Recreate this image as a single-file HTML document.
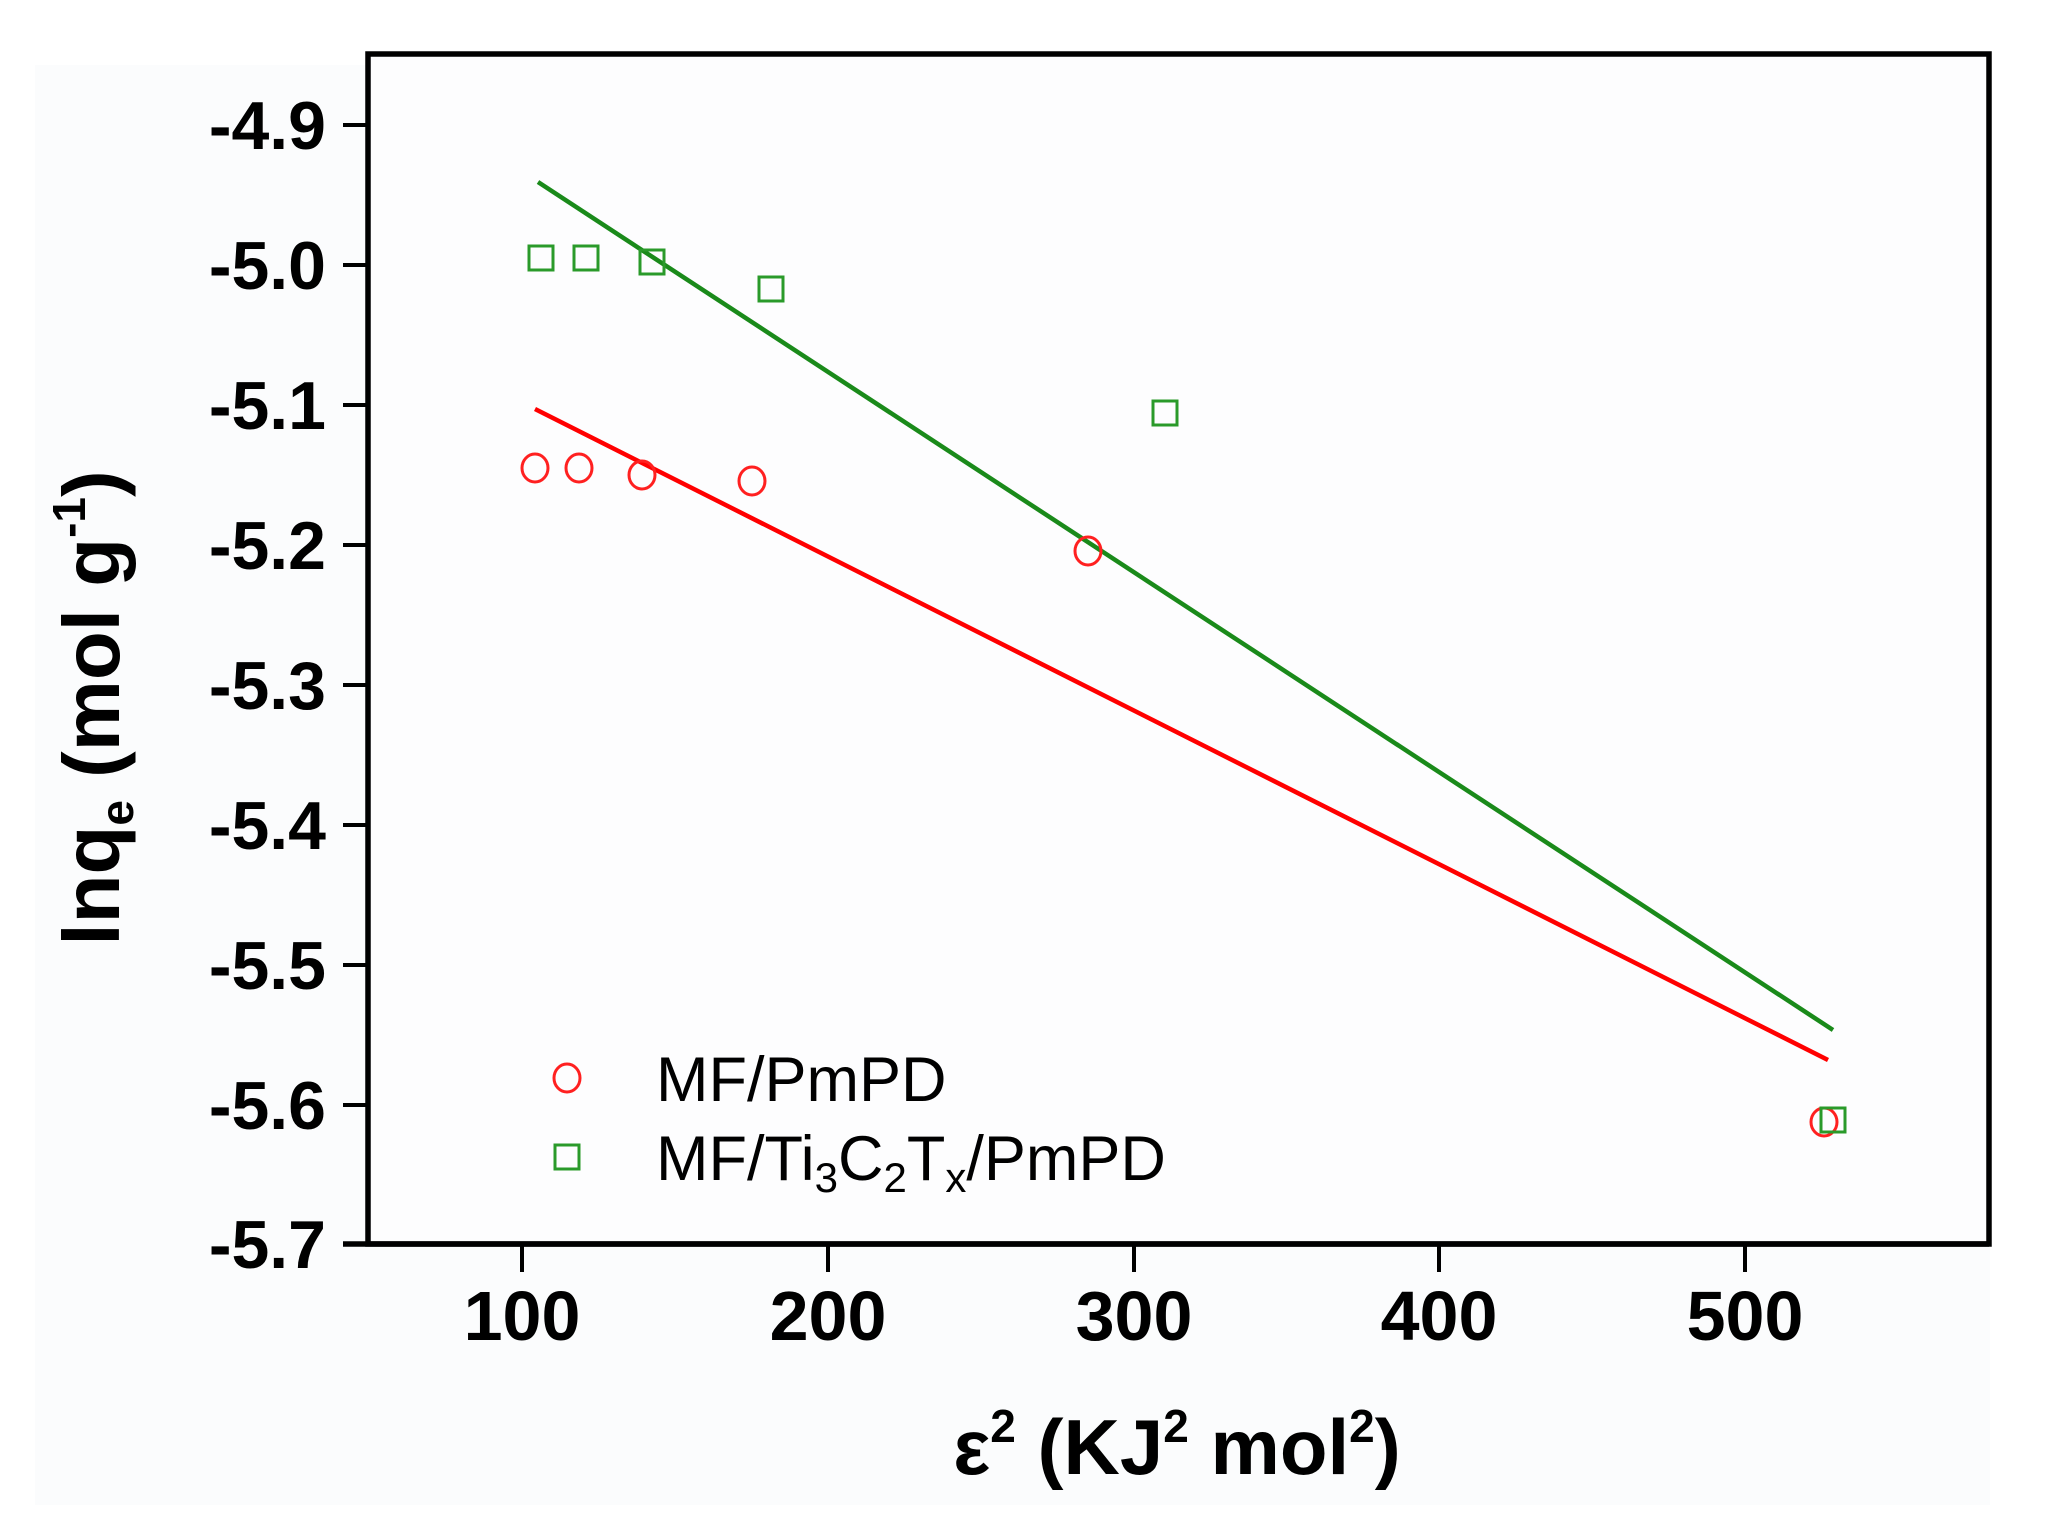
<!DOCTYPE html>
<html><head><meta charset="utf-8"><style>
html,body{margin:0;padding:0;background:#fff;}
svg{display:block;}
text{font-family:"Liberation Sans",Arial,sans-serif;}
</style></head><body>
<svg width="2056" height="1523" viewBox="0 0 2056 1523" xmlns="http://www.w3.org/2000/svg">
<rect x="35" y="65" width="1955" height="1440" fill="#fbfcfd"/>
<rect x="368" y="54" width="1621" height="1190" fill="#fdfdfe" stroke="#000" stroke-width="5.5"/>
<line x1="343" y1="1244" x2="1989" y2="1244" stroke="#000" stroke-width="5.5"/>
<g stroke="#000" stroke-width="4">
<line x1="343" y1="125" x2="368" y2="125"/>
<line x1="343" y1="265" x2="368" y2="265"/>
<line x1="343" y1="405" x2="368" y2="405"/>
<line x1="343" y1="545" x2="368" y2="545"/>
<line x1="343" y1="685" x2="368" y2="685"/>
<line x1="343" y1="825" x2="368" y2="825"/>
<line x1="343" y1="965" x2="368" y2="965"/>
<line x1="343" y1="1105" x2="368" y2="1105"/>
<line x1="343" y1="1244" x2="368" y2="1244"/>
<line x1="522" y1="1244" x2="522" y2="1272"/>
<line x1="828" y1="1244" x2="828" y2="1272"/>
<line x1="1134" y1="1244" x2="1134" y2="1272"/>
<line x1="1439" y1="1244" x2="1439" y2="1272"/>
<line x1="1745" y1="1244" x2="1745" y2="1272"/>
</g>
<g font-size="68" font-weight="bold" text-anchor="end" fill="#000">
<text x="326" y="149">-4.9</text>
<text x="326" y="289">-5.0</text>
<text x="326" y="429">-5.1</text>
<text x="326" y="569">-5.2</text>
<text x="326" y="709">-5.3</text>
<text x="326" y="849">-5.4</text>
<text x="326" y="989">-5.5</text>
<text x="326" y="1129">-5.6</text>
<text x="326" y="1268">-5.7</text>
</g>
<g font-size="70" font-weight="bold" text-anchor="middle" fill="#000">
<text x="522" y="1340">100</text>
<text x="828" y="1340">200</text>
<text x="1134" y="1340">300</text>
<text x="1439" y="1340">400</text>
<text x="1745" y="1340">500</text>
</g>
<text x="1177" y="1474" font-size="78" font-weight="bold" text-anchor="middle">ε<tspan font-size="46" dy="-32">2</tspan><tspan dy="32"> (KJ</tspan><tspan font-size="46" dy="-32">2</tspan><tspan dy="32"> mol</tspan><tspan font-size="46" dy="-32">2</tspan><tspan dy="32">)</tspan></text>
<text transform="translate(119,708) rotate(-90)" font-size="80" font-weight="bold" text-anchor="middle">lnq<tspan font-size="46" dy="14">e</tspan><tspan dy="-14"> (mol g</tspan><tspan font-size="46" dy="-34">-1</tspan><tspan dy="34">)</tspan></text>
<line x1="535" y1="409" x2="1828" y2="1060" stroke="#ff0000" stroke-width="4.5"/>
<line x1="538" y1="182" x2="1833" y2="1030" stroke="#1a8a1a" stroke-width="4.5"/>
<g fill="none" stroke="#ff2020" stroke-width="3">
<ellipse cx="535" cy="468" rx="13" ry="14"/>
<ellipse cx="579" cy="468" rx="13" ry="14"/>
<ellipse cx="642" cy="475" rx="13" ry="14"/>
<ellipse cx="752" cy="481" rx="13" ry="14"/>
<ellipse cx="1088" cy="551" rx="13" ry="14"/>
<ellipse cx="1824" cy="1122" rx="13" ry="14"/>
<ellipse cx="567" cy="1078" rx="13" ry="14"/>
</g>
<g fill="none" stroke="#2a9a2a" stroke-width="3">
<rect x="529" y="246" width="24" height="24"/>
<rect x="574" y="246" width="24" height="24"/>
<rect x="640" y="250" width="24" height="24"/>
<rect x="759" y="277" width="24" height="24"/>
<rect x="1153" y="401" width="24" height="24"/>
<rect x="1821" y="1108" width="24" height="24"/>
<rect x="555" y="1145" width="24" height="24"/>
</g>
<text x="656" y="1101" font-size="63">MF/PmPD</text>
<text x="656" y="1180" font-size="63">MF/Ti<tspan font-size="42" dy="12">3</tspan><tspan dy="-12">C</tspan><tspan font-size="42" dy="12">2</tspan><tspan dy="-12">T</tspan><tspan font-size="42" dy="12">x</tspan><tspan dy="-12">/PmPD</tspan></text>
</svg>
</body></html>
